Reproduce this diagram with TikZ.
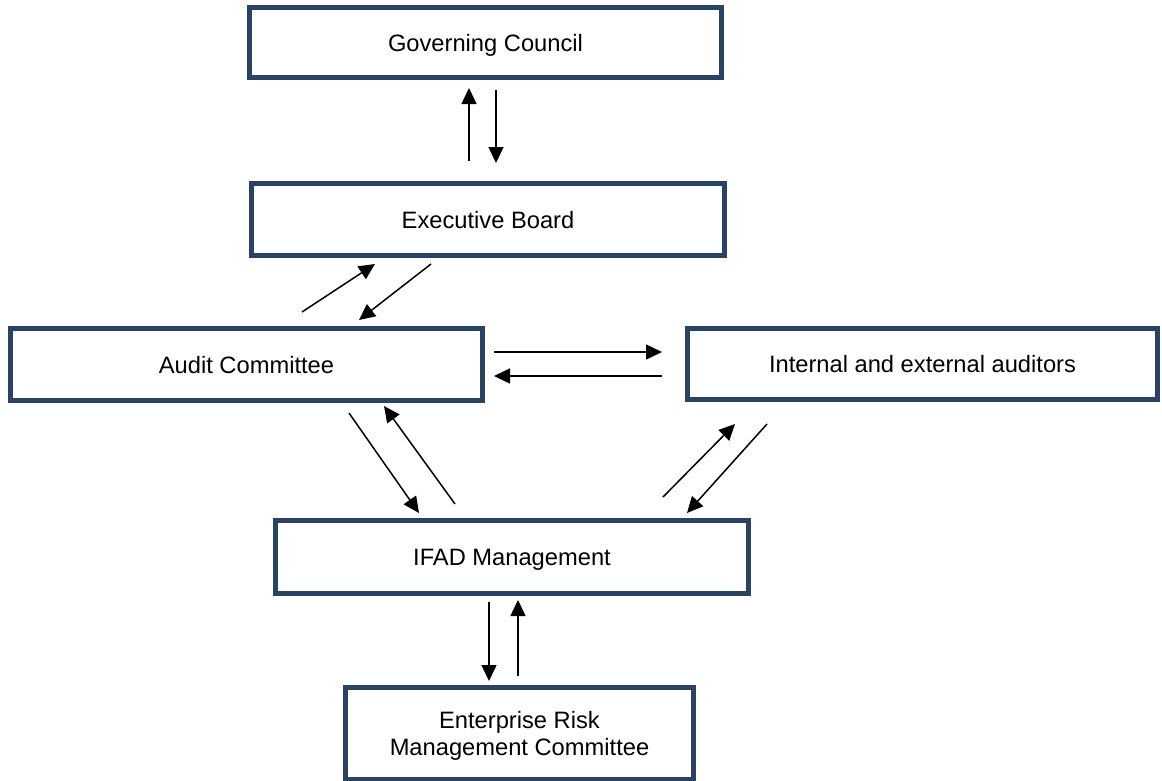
\documentclass[tikz,border=0pt]{standalone}
\usepackage{fontspec}
\setmainfont{Liberation Sans}
\usetikzlibrary{arrows.meta}
\definecolor{boxborder}{RGB}{42,66,100}
\tikzset{
  box/.style={draw=boxborder, line width=5pt, fill=white, inner sep=0pt, align=center,
    text depth=0pt, font=\fontsize{23.7}{27}\selectfont},
  link/.style={line width=1.5pt, -{Triangle[length=16pt,width=15pt]}}
}
\begin{document}
\begin{tikzpicture}[x=1pt,y=-1pt]
\useasboundingbox (0,0) rectangle (1162,780);
\fill[white] (0,0) rectangle (1162,780);
\node[box, minimum width=472pt, minimum height=70pt] (gc) at (485.5,42.5) {Governing Council};
\node[box, minimum width=473pt, minimum height=72pt] (eb) at (488,219.5) {Executive Board};
\node[box, minimum width=472pt, minimum height=72pt] (ac) at (246.5,364.5) {Audit Committee};
\node[box, minimum width=470pt, minimum height=71pt] (iea) at (922.5,364) {Internal and external auditors};
\node[box, minimum width=473pt, minimum height=73pt] (ifad) at (512,557) {IFAD Management};
\node[box, minimum width=348pt, minimum height=92pt] (ermc) at (519.5,733.5) {Enterprise Risk\\Management Committee};
% endpoints
\coordinate (gcu1) at (469,161); \coordinate (gcu2) at (469,88);
\coordinate (gcd1) at (496,90);  \coordinate (gcd2) at (496,163);
\coordinate (ebu1) at (302,312); \coordinate (ebu2) at (375,264);
\coordinate (ebd1) at (431,264); \coordinate (ebd2) at (359,320);
\coordinate (acr1) at (494,352); \coordinate (acr2) at (662,352);
\coordinate (acl1) at (662,376); \coordinate (acl2) at (494,376);
\coordinate (acd1) at (349,413); \coordinate (acd2) at (419,513);
\coordinate (acu1) at (455,504); \coordinate (acu2) at (384,406);
\coordinate (ieu1) at (663,497); \coordinate (ieu2) at (735,424);
\coordinate (ied1) at (767,424); \coordinate (ied2) at (687,513);
\coordinate (ifd1) at (489,602); \coordinate (ifd2) at (489,681);
\coordinate (ifu1) at (518,676); \coordinate (ifu2) at (518,600);
\draw[link] (gcu1) -- (gcu2);
\draw[link] (gcd1) -- (gcd2);
\draw[link] (ebu1) -- (ebu2);
\draw[link] (ebd1) -- (ebd2);
\draw[link] (acr1) -- (acr2);
\draw[link] (acl1) -- (acl2);
\draw[link] (acd1) -- (acd2);
\draw[link] (acu1) -- (acu2);
\draw[link] (ieu1) -- (ieu2);
\draw[link] (ied1) -- (ied2);
\draw[link] (ifd1) -- (ifd2);
\draw[link] (ifu1) -- (ifu2);
\end{tikzpicture}
\end{document}
